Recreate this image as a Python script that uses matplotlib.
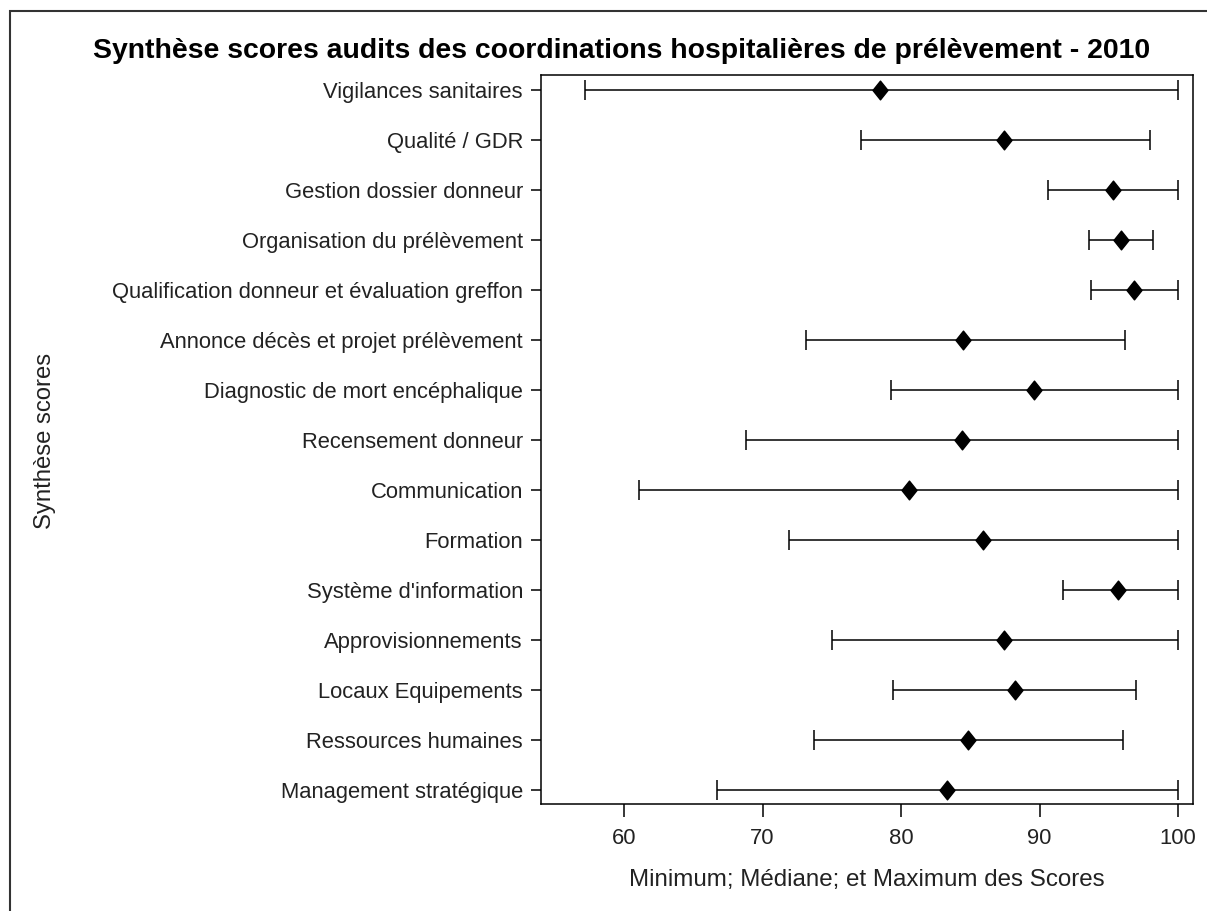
import matplotlib
matplotlib.use("Agg")
import matplotlib.pyplot as plt
from matplotlib.path import Path
from matplotlib.patches import Rectangle

# data (top row first)
categories = [
    "Vigilances sanitaires",
    "Qualité / GDR",
    "Gestion dossier donneur",
    "Organisation du prélèvement",
    "Qualification donneur et évaluation greffon",
    "Annonce décès et projet prélèvement",
    "Diagnostic de mort encéphalique",
    "Recensement donneur",
    "Communication",
    "Formation",
    "Système d'information",
    "Approvisionnements",
    "Locaux Equipements",
    "Ressources humaines",
    "Management stratégique",
]
score_min = [57.2, 77.1, 90.6, 93.6, 93.7, 73.1, 79.3, 68.8, 61.1, 71.9, 91.7, 75.0, 79.4, 73.7, 66.7]
score_med = [78.5, 87.4, 95.3, 95.9, 96.8, 84.5, 89.6, 84.4, 80.6, 85.9, 95.7, 87.4, 88.2, 84.8, 83.3]
score_max = [100.0, 98.0, 100.0, 98.2, 100.0, 96.2, 100.0, 100.0, 100.0, 100.0, 100.0, 100.0, 97.0, 96.0, 100.0]

plt.rcParams["font.family"] = ["Liberation Sans", "DejaVu Sans"]
TXT = "#222222"

W, H = 1207, 911
fig = plt.figure(figsize=(W / 100, H / 100), dpi=100)
fig.patch.set_facecolor("white")

# outer frame (cut off on right / bottom like the source image)
fig.patches.append(Rectangle((10 / W, -0.1), 1.2, 1 - 11 / H + 0.1,
                             transform=fig.transFigure, fill=False,
                             edgecolor="#333333", linewidth=1.5))

ax = fig.add_axes([541 / W, 1 - 804 / H, (1193 - 541) / W, (804 - 75) / H])

ypos = list(range(len(categories)))
diamond = Path([(0, 1), (0.8, 0), (0, -1), (-0.8, 0), (0, 1)],
               [Path.MOVETO, Path.LINETO, Path.LINETO, Path.LINETO, Path.CLOSEPOLY])

lo = [m - a for m, a in zip(score_med, score_min)]
hi = [b - m for m, b in zip(score_med, score_max)]
ax.errorbar(score_med, ypos, xerr=[lo, hi], fmt="none", ecolor="black",
            elinewidth=1.1, capsize=7, capthick=1.1, zorder=2)
ax.plot(score_med, ypos, linestyle="none", marker=diamond, markersize=13.5,
        color="black", zorder=3)

ax.set_xlim(54.0, 101.08)
ax.set_ylim(14.28, -0.3)
ax.set_xticks([60, 70, 80, 90, 100])
ax.set_yticks(ypos)
ax.set_yticklabels(categories)
ax.tick_params(axis="x", length=9, width=1.1, labelsize=15.8, colors="black",
               labelcolor=TXT, pad=8)
ax.tick_params(axis="y", length=7, width=1.1, labelsize=15.8, colors="black",
               labelcolor=TXT, pad=6)
for s in ax.spines.values():
    s.set_linewidth(1.1)

fig.text(867 / W, 1 - 880 / H, "Minimum; Médiane; et Maximum des Scores",
         ha="center", va="center", fontsize=17.4, color=TXT)
fig.text(45 / W, 1 - 441 / H, "Synthèse scores", rotation=90, ha="center",
         va="center", fontsize=17.2, color=TXT)

fig.text(622 / W, 1 - 51 / H,
         "Synthèse scores audits des coordinations hospitalières de prélèvement - 2010",
         ha="center", va="center", fontsize=20.4, fontweight="bold", color="black")

fig.savefig("out.png", dpi=100, facecolor="white")
